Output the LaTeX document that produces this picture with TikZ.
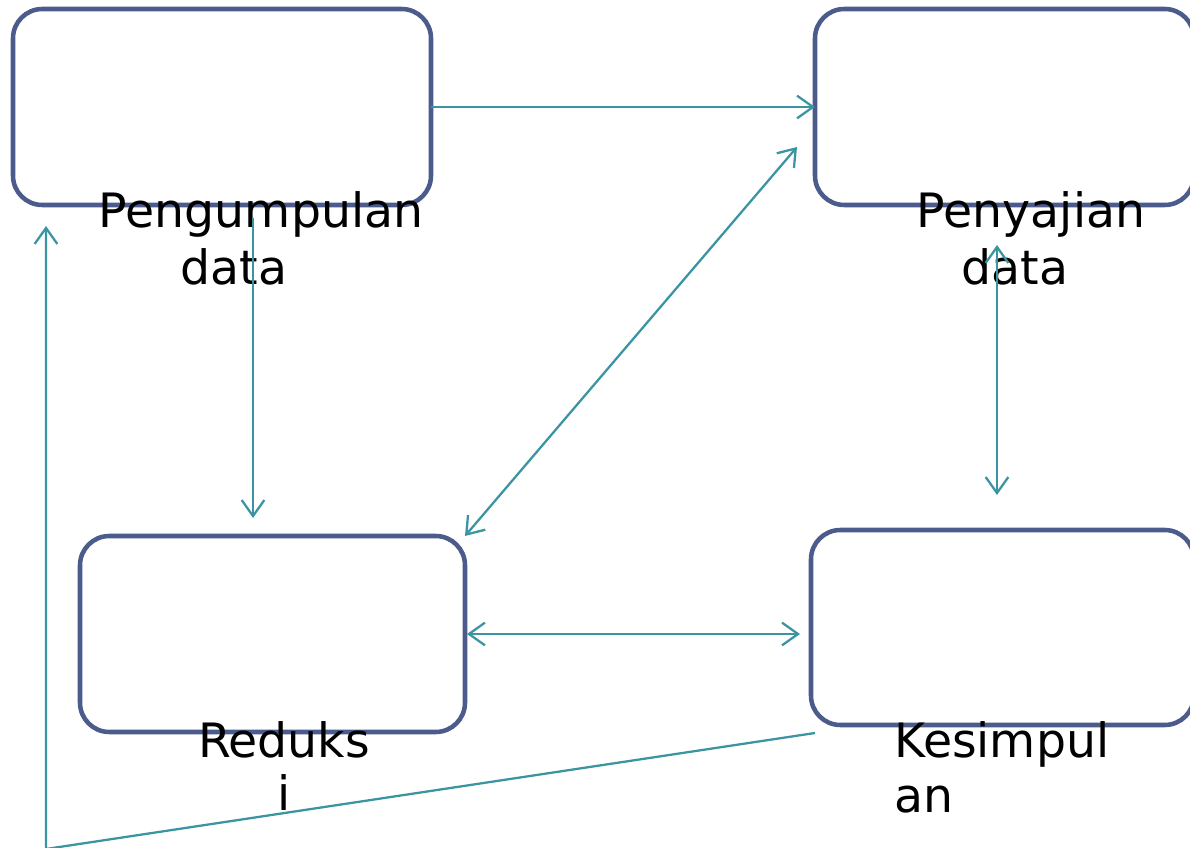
\documentclass[tikz,border=0pt]{standalone}
\usepackage{fontspec}
\setmainfont{DejaVu Sans}
\usetikzlibrary{arrows.meta,calc}
\definecolor{boxc}{RGB}{74,91,140}
\definecolor{arrc}{RGB}{58,148,162}
\begin{document}
\begin{tikzpicture}[x=0.75pt,y=-0.75pt,
  box/.style={draw=boxc,line width=3.4pt,rounded corners=22pt,fill=none,inner sep=0pt,outer sep=0pt},
  lbl/.style={anchor=base,inner sep=0pt,font=\fontsize{35.5}{43}\selectfont,text=black},
  conn/.style={draw=arrc,line width=1.7pt},
  tip/.style={-{Straight Barb[length=12pt,width=17pt,line width=1.7pt]}},
  both/.style={{Straight Barb[length=12pt,width=17pt,line width=1.7pt]}-{Straight Barb[length=12pt,width=17pt,line width=1.7pt]}}]
\useasboundingbox (0,0) rectangle (1190,848);
% boxes
\node[box,minimum width=313.5pt,minimum height=147pt] (b1) at (222,107) {};
\node[box,minimum width=284.25pt,minimum height=147pt] (b2) at (1004.5,107) {};
\node[box,minimum width=288.75pt,minimum height=147pt] (b3) at (272.5,634) {};
\node[box,minimum width=287.25pt,minimum height=146.25pt] (b4) at (1002.5,627.5) {};
% labels
\node[lbl] (t1a) at (261,228) {Pengumpulan};
\node[lbl] (t1b) at (234,285) {data};
\node[lbl] (t2a) at (1031,228) {Penyajian};
\node[lbl] (t2b) at (1015,285) {data};
\node[lbl] (t3a) at (284,757) {Reduks};
\node[lbl] (t3b) at (284,810) {i};
\node[lbl,anchor=base west] (t4a) at (894,757) {Kesimpul};
\node[lbl,anchor=base west] (t4b) at (894,812) {an};
% helper coordinates
\coordinate (d1) at (797,147);
\coordinate (v1s) at (253,218);
\coordinate (v1e) at (253,518);
\coordinate (v2s) at (997,245);
\coordinate (v2e) at (997,495);
\coordinate (h1s) at (467,634);
\coordinate (h1e) at (800,634);
\coordinate (k1) at (815,733);
\coordinate (c1) at (46,849);
\coordinate (u1) at (46,226);
% connectors
\draw[conn,tip] (b1.east) -- (b2.west);
\draw[conn,both] (b3.north east) -- (d1);
\draw[conn,tip] (v1s) -- (v1e);
\draw[conn,both] (v2s) -- (v2e);
\draw[conn,both] (h1s) -- (h1e);
\draw[conn,tip] (k1) -- (c1) -- (u1);
\end{tikzpicture}
\end{document}
